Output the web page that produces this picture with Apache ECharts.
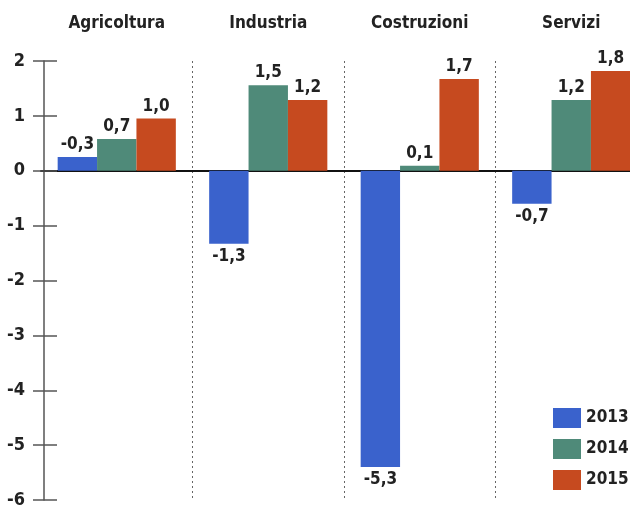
<!DOCTYPE html>
<html>
<head>
<meta charset="utf-8">
<script src="https://cdn.jsdelivr.net/npm/echarts@6/dist/echarts.min.js"></script>
<style>
  html, body { margin: 0; padding: 0; background: #fff; }
  #chart { width: 630px; height: 508px; }
</style>
</head>
<body>
<div id="chart"></div>
<script>
// settori e anni
const categories = ['Agricoltura', 'Industria', 'Costruzioni', 'Servizi']
const years = ['2013', '2014', '2015']

// altezze delle barre
const values2013 = [0.25, -1.33, -5.4, -0.6]
const values2014 = [0.58, 1.56, 0.09, 1.29]
const values2015 = [0.95, 1.29, 1.67, 1.82]

// etichette stampate sopra/sotto le barre
const labels2013 = ['-0,3', '-1,3', '-5,3', '-0,7']
const labels2014 = ['0,7', '1,5', '0,1', '1,2']
const labels2015 = ['1,0', '1,2', '1,7', '1,8']

const colors = ['#3a62cc', '#4f8a79', '#c64a1f']
const font = '"Liberation Sans Narrow", "DejaVu Sans Condensed", sans-serif'

const makeSeries = (name, values, labels, color) => ({
  name: name,
  type: 'bar',
  xAxisIndex: 0,
  yAxisIndex: 0,
  barGap: 0,
  barCategoryGap: '22%',
  itemStyle: { color: color },
  data: values.map((v, i) => ({
    value: v,
    label: { position: v < 0 ? 'bottom' : 'top', formatter: labels[i] }
  })),
  label: {
    show: true,
    distance: 4,
    fontFamily: font,
    fontWeight: 'bold',
    fontSize: 17,
    color: '#222'
  }
})

const chart = echarts.init(document.getElementById('chart'))
chart.setOption({
  animation: false,
  grid: { left: 41, top: 61, width: 606, bottom: 8, outerBoundsMode: 'none', containLabel: false },
  legend: {
    orient: 'vertical',
    left: 548,
    top: 403,
    icon: 'rect',
    itemWidth: 28,
    itemHeight: 20,
    itemGap: 11,
    data: years,
    textStyle: { fontFamily: font, fontWeight: 'bold', fontSize: 17, color: '#222' }
  },
  xAxis: [
    {
      type: 'category',
      position: 'top',
      data: categories,
      axisLine: { show: false },
      axisTick: { show: false },
      axisLabel: { margin: 29, fontFamily: font, fontWeight: 'bold', fontSize: 17, color: '#222' },
      splitLine: {
        show: true,
        interval: (i) => i !== 0,
        lineStyle: { type: [2, 3], color: '#666', width: 1 }
      }
    },
    {
      type: 'category',
      position: 'bottom',
      data: categories,
      axisLine: { show: true, onZero: true, lineStyle: { color: '#111', width: 2 } },
      axisTick: { show: false },
      axisLabel: { show: false },
      splitLine: { show: false }
    }
  ],
  yAxis: [
    {
      type: 'value',
      position: 'left',
      min: -6,
      max: 2,
      interval: 1,
      offset: -3,
      axisLine: { show: true, lineStyle: { color: '#555', width: 1.5 } },
      axisTick: { show: true, inside: false, length: 11, lineStyle: { color: '#555', width: 1.5 } },
      axisLabel: { margin: 19, fontFamily: font, fontWeight: 'bold', fontSize: 18, color: '#222' },
      splitLine: { show: false }
    },
    {
      type: 'value',
      position: 'left',
      min: -6,
      max: 2,
      interval: 1,
      offset: -3,
      axisLine: { show: false },
      axisTick: { show: true, inside: true, length: 13, lineStyle: { color: '#555', width: 1.5 } },
      axisLabel: { show: false },
      splitLine: { show: false }
    }
  ],
  series: [
    makeSeries('2013', values2013, labels2013, colors[0]),
    makeSeries('2014', values2014, labels2014, colors[1]),
    makeSeries('2015', values2015, labels2015, colors[2])
  ]
})
</script>
</body>
</html>
